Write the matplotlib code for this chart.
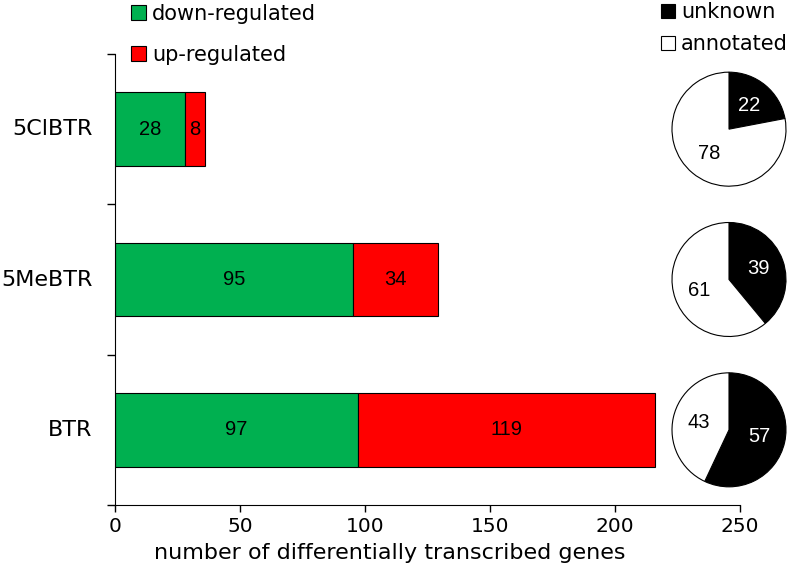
import matplotlib
matplotlib.use("Agg")
import matplotlib.pyplot as plt
from matplotlib.patches import Patch

plt.rcParams['font.family'] = ['DejaVu Sans']

categories = ["5ClBTR", "5MeBTR", "BTR"]
down_regulated = [28, 95, 97]
up_regulated = [8, 34, 119]
unknown_pct = [22, 39, 57]
annotated_pct = [78, 61, 43]
x_ticks = [0, 50, 100, 150, 200, 250]

GREEN = "#00B050"
RED = "#FF0000"

fig = plt.figure(figsize=(7.88, 5.8), dpi=100)
W, H = 788, 580
ax = fig.add_axes([115 / W, 1 - 505 / H, (740 - 115) / W, (505 - 54) / H])

ypos = list(range(len(categories)))
bar_h = 0.49
b1 = ax.barh(ypos, down_regulated, height=bar_h, color=GREEN, edgecolor="black", linewidth=0.8)
b2 = ax.barh(ypos, up_regulated, left=down_regulated, height=bar_h, color=RED, edgecolor="black", linewidth=0.8)
ax.bar_label(b1, labels=[str(v) for v in down_regulated], label_type="center",
             fontsize=14.5, family="Liberation Sans")
ax.bar_label(b2, labels=[str(v) for v in up_regulated], label_type="center",
             fontsize=14.5, family="Liberation Sans")

ax.set_ylim(len(categories) - 0.5, -0.5)
ax.set_xlim(0, 250)
ax.set_xticks(x_ticks)
ax.set_xticklabels([str(t) for t in x_ticks], fontsize=14.5)
ax.set_yticks([i - 0.5 for i in range(len(categories) + 1)])
ax.set_yticklabels([])
for i, c in enumerate(categories):
    ax.text(-0.036, i, c, transform=ax.get_yaxis_transform(), ha="right", va="center", fontsize=16)
ax.tick_params(axis="y", direction="out", length=6, width=1)
ax.tick_params(axis="x", direction="out", length=5, width=1, pad=4)
ax.spines["top"].set_visible(False)
ax.spines["right"].set_visible(False)
ax.set_xlabel("number of differentially transcribed genes", fontsize=16, labelpad=2)
ax.xaxis.set_label_coords(0.44, -0.085)

# pies
fig.canvas.draw()
r_px = 57
cx_px = 729
for i in range(len(categories)):
    _, ydisp = ax.transData.transform((0, i))
    pax = fig.add_axes([(cx_px - r_px - 1) / W, (ydisp - r_px - 1) / H,
                        (2 * r_px + 2) / W, (2 * r_px + 2) / H])
    wedges, texts, autotexts = pax.pie(
        [unknown_pct[i], annotated_pct[i]], colors=["black", "white"], startangle=90,
        counterclock=False, autopct="%.0f", pctdistance=0.55,
        wedgeprops=dict(edgecolor="black", linewidth=0.8),
        textprops=dict(fontsize=14.5, family="Liberation Sans"))
    autotexts[0].set_color("white")
    autotexts[1].set_color("black")
    lim = 1.0 + 1.0 / r_px
    pax.set_xlim(-lim, lim)
    pax.set_ylim(-lim, lim)
    pax.set_aspect("equal")
    pax.axis("off")

# legends
fig.legend(handles=[Patch(facecolor=GREEN, edgecolor="black", linewidth=0.8),
                    Patch(facecolor=RED, edgecolor="black", linewidth=0.8)],
           labels=["down-regulated", "up-regulated"], loc="upper left",
           bbox_to_anchor=(131 / W, 1 - 4 / H), frameon=False, fontsize=15,
           handlelength=0.7, handleheight=0.7, handletextpad=0.3, labelspacing=1.0,
           borderpad=0, borderaxespad=0)
fig.legend(handles=[Patch(facecolor="black", edgecolor="black", linewidth=0.8),
                    Patch(facecolor="white", edgecolor="black", linewidth=0.8)],
           labels=["unknown", "annotated"], loc="upper left",
           bbox_to_anchor=(661 / W, 1 - 2 / H), frameon=False, fontsize=15,
           handlelength=0.65, handleheight=0.65, handletextpad=0.3, labelspacing=0.6,
           borderpad=0, borderaxespad=0)

fig.savefig("out.png", dpi=100)
